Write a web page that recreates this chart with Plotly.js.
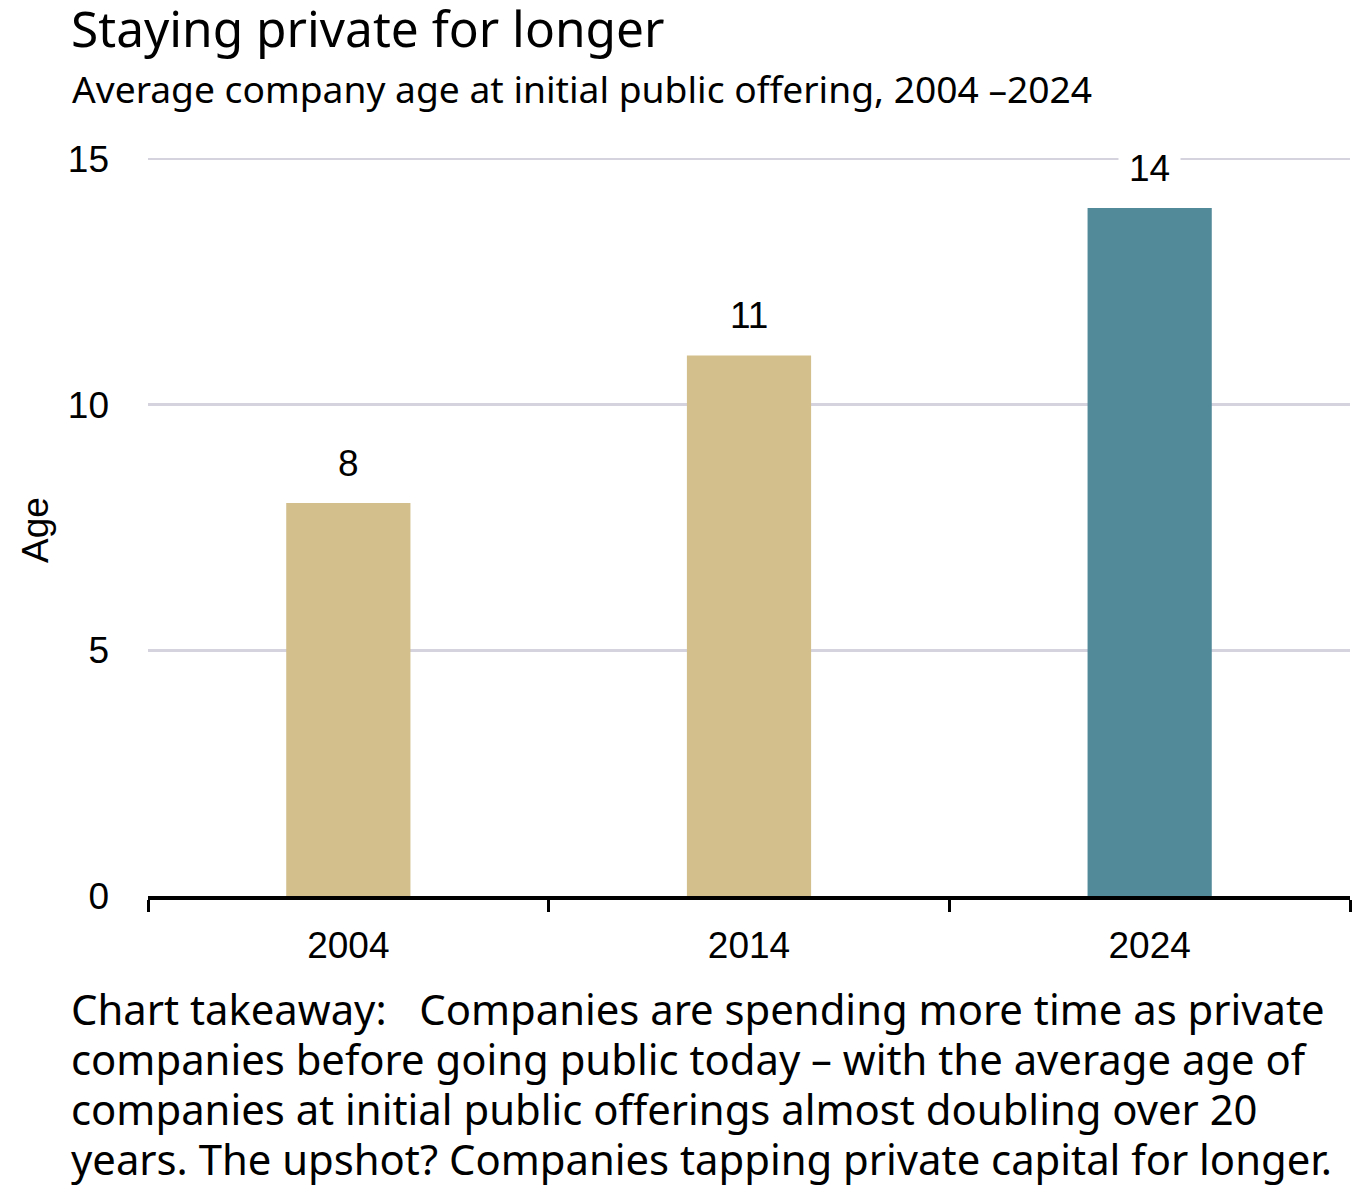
<!DOCTYPE html>
<html>
<head>
<meta charset="utf-8">
<script src="https://cdn.plot.ly/plotly-3.0.1.min.js"></script>
<style>html,body{margin:0;padding:0;background:#fff;}#chart{width:1352px;height:1191px;}</style>
</head>
<body>
<div id="chart"></div>
<script>
const categories = ["2004", "2014", "2024"];
const ages = [8, 11, 14];
const barColors = ["#D3BF8C", "#D3BF8C", "#528A9A"];
const yTicks = [0, 5, 10, 15];

const titleText = "Staying private for longer";
const subtitleText = "Average company age at initial public offering, 2004 \u20132024";
const takeawayLines = [
  "Chart takeaway:\u00a0\u00a0\u00a0Companies are spending more time as private",
  "companies before going public today \u2013 with the average age of",
  "companies at initial public offerings almost doubling over 20",
  "years. The upshot? Companies tapping private capital for longer."
];

const W = 1352, H = 1191;
const M = {l: 148, r: 2, t: 154, b: 295};
const px = (x) => (x - M.l) / (W - M.l - M.r);
const py = (y) => (H - M.b - y) / (H - M.t - M.b);

const axisFont = {family: "Liberation Sans, Arial, sans-serif", size: 37, color: "#000"};
const textFont = "Noto Sans, sans-serif";

const trace = {
  type: "bar",
  x: categories,
  y: ages,
  width: 0.31,
  marker: {color: barColors, line: {width: 0}},
  hoverinfo: "none"
};

const labelAnns = categories.map((c, i) => ({
  x: i, y: ages[i], xref: "x", yref: "y",
  text: String(ages[i]), showarrow: false,
  xanchor: "center", yanchor: "bottom", yshift: 8,
  bgcolor: "#ffffff", borderpad: 10,
  font: axisFont
}));

const takeawayAnns = takeawayLines.map((line, i) => ({
  text: line, xref: "paper", yref: "paper",
  x: px(70), y: py(979 + 50 * i), xanchor: "left", yanchor: "top",
  borderpad: 0,
  showarrow: false, align: "left",
  font: {family: textFont, size: 41.8, color: "#000"}
}));

const layout = {
  width: W, height: H,
  margin: M,
  paper_bgcolor: "#ffffff",
  plot_bgcolor: "#ffffff",
  showlegend: false,
  bargap: 0.69,
  title: {
    text: titleText,
    xref: "container", yref: "container",
    x: 71 / W, xanchor: "left",
    y: 1 - 12 / H, yanchor: "top",
    font: {family: textFont, size: 49.6, color: "#000"}
  },
  xaxis: {
    type: "category",
    range: [-0.5, 2.5],
    showline: true, linecolor: "#000", linewidth: 4,
    ticks: "outside", tickson: "boundaries", ticklen: 12, tickwidth: 3, tickcolor: "#000",
    showgrid: false, zeroline: false,
    ticklabelstandoff: 14,
    tickfont: axisFont,
    fixedrange: true
  },
  yaxis: {
    range: [0, 15.1],
    tickvals: yTicks,
    ticktext: yTicks.map(String),
    showgrid: true, gridcolor: "#D5D3DE", gridwidth: 2.5,
    zeroline: false, showline: false, ticks: "",
    ticklabelstandoff: 38,
    tickfont: axisFont,
    fixedrange: true
  },
  annotations: [
    {
      text: subtitleText, xref: "paper", yref: "paper",
      x: px(70), y: py(61), xanchor: "left", yanchor: "top",
      showarrow: false, align: "left",
      font: {family: textFont, size: 37.2, color: "#000"}
    },
    {
      text: "Age", xref: "paper", yref: "paper",
      x: px(35), y: py(530), xanchor: "center", yanchor: "middle",
      textangle: -90, showarrow: false,
      font: axisFont
    }
  ].concat(takeawayAnns, labelAnns)
};

Plotly.newPlot("chart", [trace], layout, {displayModeBar: false, staticPlot: true});
</script>
</body>
</html>
